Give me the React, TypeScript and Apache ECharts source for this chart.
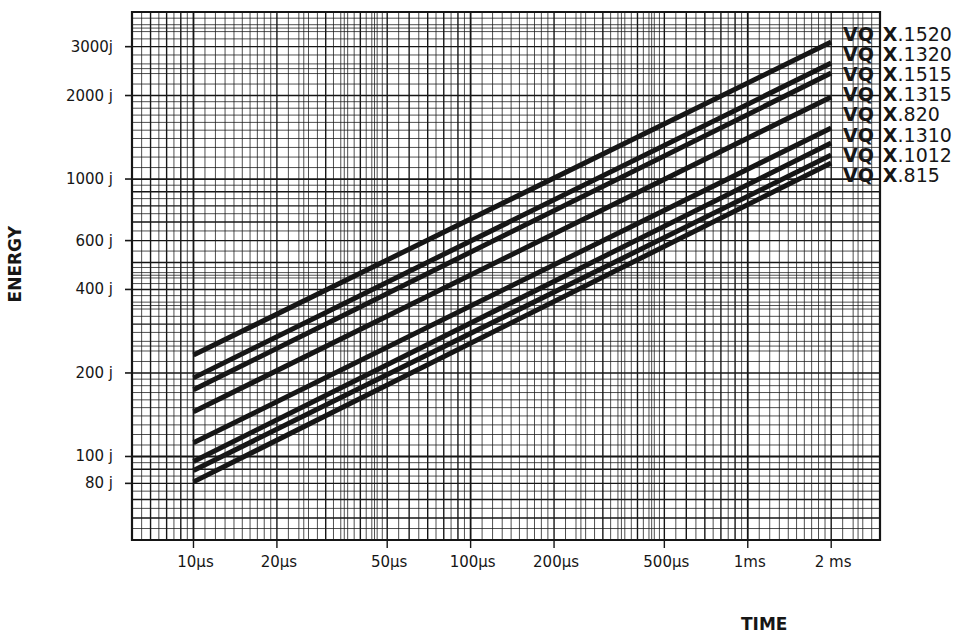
import React, { useEffect, useRef } from 'react';
import * as echarts from 'echarts';

// Flash-lamp explosion energy versus pulse duration (log-log)
const lampModels = ['VQ X.1520', 'VQ X.1320', 'VQ X.1515', 'VQ X.1315', 'VQ X.820', 'VQ X.1310', 'VQ X.1012', 'VQ X.815'];
const pulseTimes = [10, 2000]; // µs
const energyAt10us = [232, 192, 174, 145, 112, 96, 89, 81];
const energyAt2ms = [3120, 2620, 2410, 1976, 1528, 1349, 1221, 1143];

const timeTicks = [10, 20, 50, 100, 200, 500, 1000, 2000];
const timeTickLabels = ['10µs', '20µs', '50µs', '100µs', '200µs', '500µs', '1ms', '2 ms'];
const energyTicks = [80, 100, 200, 400, 600, 1000, 2000, 3000];
const energyTickLabels = ['80 j', '100 j', '200 j', '400 j', '600 j', '1000 j', '2000 j', '3000j'];

const TIME_MIN = 6;
const TIME_MAX = 3000;
const ENERGY_MIN = 50;
const ENERGY_MAX = 4000;

const INK = '#161616';
const FONT = '"DejaVu Sans", "Open Sans", sans-serif';

// Log-paper rulings: every 0.1 from 1 to 2, every 0.2 from 2 to 5, every 0.5 from 5 to 10.
function paperRulings(min: number, max: number) {
  const minor: number[] = [];
  const unit: number[] = [];
  const decade: number[] = [];
  for (let k = Math.floor(Math.log10(min)); k <= Math.ceil(Math.log10(max)); k++) {
    for (let t = 10; t < 100; t++) {
      const keep = t < 20 || (t < 50 && t % 2 === 0) || t % 5 === 0;
      if (!keep) continue;
      const v = (t / 10) * Math.pow(10, k);
      if (v < min * 0.999 || v > max * 1.001) continue;
      if (t === 10) decade.push(v);
      else if (t % 10 === 0) unit.push(v);
      else minor.push(v);
    }
  }
  return { minor, unit, decade };
}

function verticalRule(width: number) {
  return (params: any, api: any) => {
    const cs = params.coordSys;
    const x = api.coord([api.value(0), ENERGY_MIN])[0];
    return {
      type: 'line',
      silent: true,
      shape: { x1: x, y1: cs.y, x2: x, y2: cs.y + cs.height },
      style: { stroke: INK, lineWidth: width },
    };
  };
}

function horizontalRule(width: number) {
  return (params: any, api: any) => {
    const cs = params.coordSys;
    const y = api.coord([TIME_MIN, api.value(1)])[1];
    return {
      type: 'line',
      silent: true,
      shape: { x1: cs.x, y1: y, x2: cs.x + cs.width, y2: y },
      style: { stroke: INK, lineWidth: width },
    };
  };
}

export default function App() {
  const ref = useRef<HTMLDivElement>(null);

  useEffect(() => {
    if (!ref.current) return;
    const chart = echarts.init(ref.current, undefined, { renderer: 'svg' });

    const xr = paperRulings(TIME_MIN, TIME_MAX);
    const yr = paperRulings(ENERGY_MIN, ENERGY_MAX);

    const ruleSeries: any[] = [];
    const addRules = (vals: number[], width: number, vertical: boolean) => {
      ruleSeries.push({
        type: 'custom',
        silent: true,
        z: 1,
        clip: false,
        data: vals.map((v) => (vertical ? [v, ENERGY_MIN] : [TIME_MIN, v])),
        renderItem: vertical ? verticalRule(width) : horizontalRule(width),
      });
    };
    addRules(xr.minor, 0.75, true);
    addRules(xr.unit, 1.4, true);
    addRules(xr.decade, 1.8, true);
    addRules(yr.minor, 0.75, false);
    addRules(yr.unit, 1.4, false);
    addRules(yr.decade, 1.8, false);

    // Time ticks and labels below the paper
    const timeLabelSeries = {
      type: 'custom',
      silent: true,
      z: 2,
      clip: false,
      data: timeTicks.map((t) => [t, ENERGY_MIN]),
      renderItem: (params: any, api: any) => {
        const cs = params.coordSys;
        const x = api.coord([api.value(0), ENERGY_MIN])[0];
        const yb = cs.y + cs.height;
        return {
          type: 'group',
          children: [
            { type: 'line', shape: { x1: x, y1: yb, x2: x, y2: yb + 8 }, style: { stroke: INK, lineWidth: 1.4 } },
            {
              type: 'text',
              style: {
                text: timeTickLabels[params.dataIndex],
                x: x + 2,
                y: yb + 22,
                align: 'center',
                verticalAlign: 'middle',
                fontSize: 15,
                fontFamily: FONT,
                fill: INK,
              },
            },
          ],
        };
      },
    };

    // Energy ticks and labels left of the paper
    const energyLabelSeries = {
      type: 'custom',
      silent: true,
      z: 2,
      clip: false,
      data: energyTicks.map((e) => [TIME_MIN, e]),
      renderItem: (params: any, api: any) => {
        const cs = params.coordSys;
        const y = api.coord([TIME_MIN, api.value(1)])[1];
        return {
          type: 'group',
          children: [
            { type: 'line', shape: { x1: cs.x - 7, y1: y, x2: cs.x, y2: y }, style: { stroke: INK, lineWidth: 1.6 } },
            {
              type: 'text',
              style: {
                text: energyTickLabels[params.dataIndex],
                x: cs.x - 19,
                y,
                align: 'right',
                verticalAlign: 'middle',
                fontSize: 15,
                fontFamily: FONT,
                fill: INK,
              },
            },
          ],
        };
      },
    };

    const lampSeries = lampModels.map((name, i) => ({
      name,
      type: 'line',
      z: 5,
      symbol: 'none',
      silent: true,
      lineStyle: { color: INK, width: 5, cap: 'butt' },
      itemStyle: { color: INK },
      data: [
        [pulseTimes[0], energyAt10us[i]],
        [pulseTimes[1], energyAt2ms[i]],
      ],
    }));

    chart.setOption({
      animation: false,
      backgroundColor: '#ffffff',
      grid: {
        left: 132,
        right: 87,
        top: 12,
        bottom: 93,
        show: true,
        borderColor: INK,
        borderWidth: 2.2,
        backgroundColor: 'transparent',
      },
      xAxis: {
        type: 'log',
        logBase: 10,
        min: TIME_MIN,
        max: TIME_MAX,
        axisLine: { show: false },
        axisTick: { show: false },
        axisLabel: { show: false },
        splitLine: { show: false },
      },
      yAxis: {
        type: 'log',
        logBase: 10,
        min: ENERGY_MIN,
        max: ENERGY_MAX,
        axisLine: { show: false },
        axisTick: { show: false },
        axisLabel: { show: false },
        splitLine: { show: false },
      },
      legend: {
        data: lampModels,
        orient: 'vertical',
        left: 838,
        top: 24,
        itemWidth: 0,
        itemHeight: 16,
        itemGap: 1.2,
        icon: 'rect',
        selectedMode: false,
        padding: 0,
        formatter: (name: string) => {
          const [prefix, code] = name.split(' ');
          return `{v|${prefix}}{x|${code.slice(0, 1)}}{n|${code.slice(1)}}`;
        },
        textStyle: {
          color: INK,
          fontFamily: FONT,
          fontSize: 19,
          rich: {
            v: { fontSize: 19, fontWeight: 'bold', color: INK, fontFamily: FONT, padding: [0, 9, 0, 0] },
            x: { fontSize: 19, fontWeight: 'bold', color: INK, fontFamily: FONT },
            n: { fontSize: 19, fontWeight: 'normal', color: INK, fontFamily: FONT },
          },
        },
      },
      graphic: [
        {
          type: 'text',
          left: 6,
          top: 226,
          rotation: Math.PI / 2,
          style: { text: 'ENERGY', fontSize: 17, fontWeight: 'bold', fontFamily: FONT, fill: INK },
        },
        {
          type: 'text',
          left: 741,
          top: 615,
          style: { text: 'TIME', fontSize: 17, fontWeight: 'bold', fontFamily: FONT, fill: INK },
        },
      ],
      series: [...ruleSeries, timeLabelSeries, energyLabelSeries, ...lampSeries],
    });

    return () => chart.dispose();
  }, []);

  return <div ref={ref} style={{ position: 'fixed', left: 0, top: 0, width: 967, height: 633 }} />;
}
